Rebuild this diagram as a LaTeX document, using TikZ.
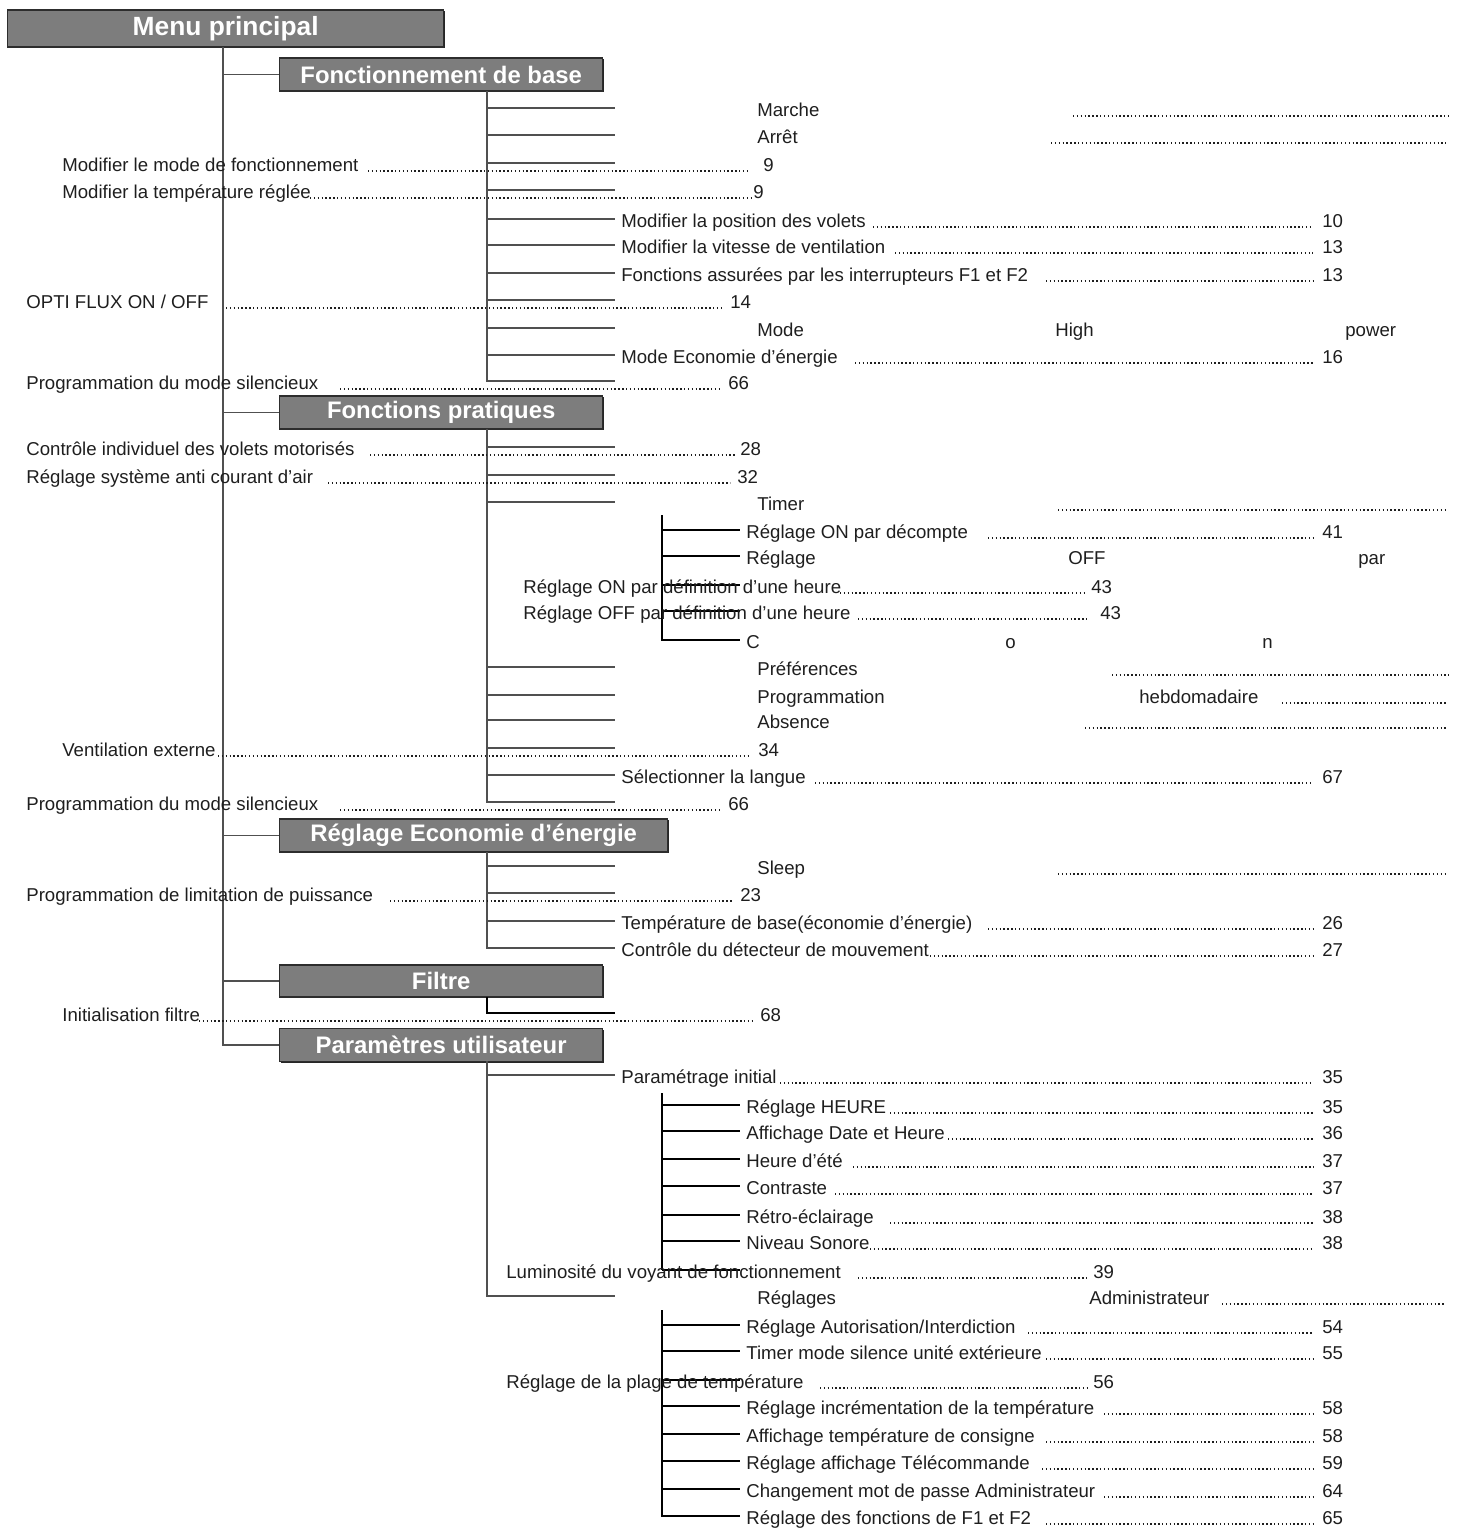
\documentclass[tikz,border=0pt]{standalone}
\usepackage{fontspec}
\setmainfont{Liberation Sans}
\usepackage{tikz}
\usetikzlibrary{shadows}
\usepackage{xcolor}
\definecolor{boxgray}{RGB}{125,125,125}
\definecolor{boxedge}{RGB}{45,45,45}
\definecolor{linegray}{RGB}{80,80,80}
\definecolor{textgray}{RGB}{30,30,30}
\tikzstyle{menubox} = [rectangle, anchor=west, fill=boxgray, draw=boxedge, line width=0.8pt, text=white, font=\bfseries\fontsize{13.6}{16}\selectfont, minimum width=6.46cm, minimum height=0.66cm, inner sep=0pt, drop shadow={shadow xshift=0.7pt, shadow yshift=-0.8pt, fill=black!85, opacity=1}]
\tikzstyle{entry} = [anchor=base west, inner sep=0pt, text=textgray, font=\fontsize{10.6}{13}\selectfont, yshift=-0.17cm]
\tikzstyle{tree} = [line width=0.95pt, color=linegray]
\tikzstyle{subtree} = [line width=1.2pt, color=black]
\tikzstyle{leader} = [line width=0.8pt, dash pattern=on 0.8pt off 1.4pt, color=textgray]

\begin{document}
\begin{tikzpicture}[x=0.02cm, y=-0.02cm]
\useasboundingbox (0,0) rectangle (1459,1534);

% boxes
\node[menubox, minimum width=8.72cm, minimum height=0.74cm, font=\bfseries\fontsize{15}{18}\selectfont] (menu) at (7,28.5) {Menu principal};
\node[menubox] (base) at (279,74.5) {Fonctionnement de base};
\node[menubox] (prat) at (279,412.5) {Fonctions pratiques};
\node[menubox, minimum width=7.76cm] (eco) at (279,835.5) {Réglage Economie d'énergie};
\node[menubox, minimum height=0.64cm] (filtre) at (279,981) {Filtre};
\node[menubox] (param) at (279,1045) {Paramètres utilisateur};

% main tree
\coordinate (root) at (223,47);
\draw[tree] (root) |- (param.west);
\draw[tree] (root |- base.west) -- (base.west);
\draw[tree] (root |- prat.west) -- (prat.west);
\draw[tree] (root |- eco.west) -- (eco.west);
\draw[tree] (root |- filtre.west) -- (filtre.west);

% Fonctionnement de base
\coordinate (s1) at (487,91);
\draw[tree] (s1) |- (615,381);
\foreach \y in {108,135,163,190,219,245,273,300,328,355}
  \draw[tree] (487,\y) -- (615,\y);
\node[entry] (a1) at (757,108) {Marche};
\node[entry] (a2) at (757,135) {Arrêt};
\node[entry] (a3) at (62,163) {Modifier le mode de fonctionnement};
\node[entry] (n3) at (763,163) {9};
\node[entry] (a4) at (62,190) {Modifier la température réglée};
\node[entry] (n4) at (753,190) {9};
\node[entry] (a5) at (621,219) {Modifier la position des volets};
\node[entry] (n5) at (1322,219) {10};
\node[entry] (a6) at (621,245) {Modifier la vitesse de ventilation};
\node[entry] (n6) at (1322,245) {13};
\node[entry] (a7) at (621,273) {Fonctions assurées par les interrupteurs F1 et F2};
\node[entry] (n7) at (1322,273) {13};
\node[entry] (a8) at (26,300) {OPTI FLUX ON / OFF};
\node[entry] (n8) at (730,300) {14};
\node[entry] (a9) at (757,328) {Mode};
\node[entry] (a9b) at (1055,328) {High};
\node[entry] (a9c) at (1345,328) {power};
\node[entry] (a10) at (621,355) {Mode Economie d'énergie};
\node[entry] (n10) at (1322,355) {16};
\node[entry] (a11) at (26,381) {Programmation du mode silencieux};
\node[entry] (n11) at (728,381) {66};
\draw[leader] (1073,116) -- (1449,116);
\draw[leader] (1051,143) -- (1446,143);
\draw[leader] (368,171) -- (748,171);
\draw[leader] (310,198) -- (751,198);
\draw[leader] (873,227) -- (1313,227);
\draw[leader] (895,253) -- (1313,253);
\draw[leader] (1046,281) -- (1313,281);
\draw[leader] (226,308) -- (722,308);
\draw[leader] (855,363) -- (1313,363);
\draw[leader] (340,389) -- (720,389);

% Fonctions pratiques
\coordinate (s2) at (487,429);
\draw[tree] (s2) |- (615,802);
\foreach \y in {447,475,502,667,695,720,748,775}
  \draw[tree] (487,\y) -- (615,\y);
\draw[subtree] (662,515) |- (740,640);
\foreach \y in {530,556,585,611}
  \draw[subtree] (662,\y) -- (740,\y);
\node[entry] (b1) at (26,447) {Contrôle individuel des volets motorisés};
\node[entry] (m1) at (740,447) {28};
\node[entry] (b2) at (26,475) {Réglage système anti courant d'air};
\node[entry] (m2) at (737,475) {32};
\node[entry] (b3) at (757,502) {Timer};
\node[entry] (b4) at (746,530) {Réglage ON par décompte};
\node[entry] (m4) at (1322,530) {41};
\node[entry] (b5) at (746,556) {Réglage};
\node[entry] (b5b) at (1068,556) {OFF};
\node[entry] (b5c) at (1358,556) {par};
\node[entry] (b6) at (523,585) {Réglage ON par définition d'une heure};
\node[entry] (m6) at (1091,585) {43};
\node[entry] (b7) at (523,611) {Réglage OFF par définition d'une heure};
\node[entry] (m7) at (1100,611) {43};
\node[entry] (b8) at (746,640) {C};
\node[entry] (b8b) at (1005,640) {o};
\node[entry] (b8c) at (1262,640) {n};
\node[entry] (b9) at (757,667) {Préférences};
\node[entry] (b10) at (757,695) {Programmation};
\node[entry] (b10b) at (1139,695) {hebdomadaire};
\node[entry] (b11) at (757,720) {Absence};
\node[entry] (b12) at (62,748) {Ventilation externe};
\node[entry] (m12) at (758,748) {34};
\node[entry] (b13) at (621,775) {Sélectionner la langue};
\node[entry] (m13) at (1322,775) {67};
\node[entry] (b14) at (26,802) {Programmation du mode silencieux};
\node[entry] (m14) at (728,802) {66};
\draw[leader] (370,455) -- (735,455);
\draw[leader] (328,483) -- (730,483);
\draw[leader] (1058,510) -- (1446,510);
\draw[leader] (988,538) -- (1313,538);
\draw[leader] (840,593) -- (1087,593);
\draw[leader] (858,619) -- (1087,619);
\draw[leader] (1112,675) -- (1449,675);
\draw[leader] (1282,703) -- (1446,703);
\draw[leader] (1085,728) -- (1446,728);
\draw[leader] (218,756) -- (750,756);
\draw[leader] (815,783) -- (1313,783);
\draw[leader] (340,810) -- (720,810);

% Reglage Economie d'energie
\coordinate (s3) at (487,852);
\draw[tree] (s3) |- (615,948);
\foreach \y in {866,893,921}
  \draw[tree] (487,\y) -- (615,\y);
\node[entry] (c1) at (757,866) {Sleep};
\node[entry] (c2) at (26,893) {Programmation de limitation de puissance};
\node[entry] (k2) at (740,893) {23};
\node[entry] (c3) at (621,921) {Température de base(économie d'énergie)};
\node[entry] (k3) at (1322,921) {26};
\node[entry] (c4) at (621,948) {Contrôle du détecteur de mouvement};
\node[entry] (k4) at (1322,948) {27};
\draw[leader] (1058,874) -- (1446,874);
\draw[leader] (390,901) -- (733,901);
\draw[leader] (988,929) -- (1313,929);
\draw[leader] (930,956) -- (1313,956);

% Filtre
\coordinate (s4) at (487,997);
\draw[subtree] (s4) |- (615,1013);
\node[entry] (d1) at (62,1013) {Initialisation filtre};
\node[entry] (h1) at (760,1013) {68};
\draw[leader] (199,1021) -- (752,1021);

% Parametres utilisateur
\coordinate (s5) at (487,1061);
\draw[tree] (s5) |- (615,1296);
\draw[tree] (487,1075) -- (615,1075);
\draw[subtree] (662,1093) -- (662,1270);
\foreach \y in {1105,1131,1159,1186,1215,1241,1270}
  \draw[subtree] (662,\y) -- (740,\y);
\draw[subtree] (662,1310) |- (740,1516);
\foreach \y in {1325,1351,1380,1406,1434,1461,1489}
  \draw[subtree] (662,\y) -- (740,\y);
\node[entry] (e1) at (621,1075) {Paramétrage initial};
\node[entry] (g1) at (1322,1075) {35};
\node[entry] (e2) at (746,1105) {Réglage HEURE};
\node[entry] (g2) at (1322,1105) {35};
\node[entry] (e3) at (746,1131) {Affichage Date et Heure};
\node[entry] (g3) at (1322,1131) {36};
\node[entry] (e4) at (746,1159) {Heure d'été};
\node[entry] (g4) at (1322,1159) {37};
\node[entry] (e5) at (746,1186) {Contraste};
\node[entry] (g5) at (1322,1186) {37};
\node[entry] (e6) at (746,1215) {Rétro-éclairage};
\node[entry] (g6) at (1322,1215) {38};
\node[entry] (e7) at (746,1241) {Niveau Sonore};
\node[entry] (g7) at (1322,1241) {38};
\node[entry] (e8) at (506,1270) {Luminosité du voyant de fonctionnement};
\node[entry] (g8) at (1093,1270) {39};
\node[entry] (e9) at (757,1296) {Réglages};
\node[entry] (e9b) at (1089,1296) {Administrateur};
\node[entry] (e10) at (746,1325) {Réglage Autorisation/Interdiction};
\node[entry] (g10) at (1322,1325) {54};
\node[entry] (e11) at (746,1351) {Timer mode silence unité extérieure};
\node[entry] (g11) at (1322,1351) {55};
\node[entry] (e12) at (506,1380) {Réglage de la plage de température};
\node[entry] (g12) at (1093,1380) {56};
\node[entry] (e13) at (746,1406) {Réglage incrémentation de la température};
\node[entry] (g13) at (1322,1406) {58};
\node[entry] (e14) at (746,1434) {Affichage température de consigne};
\node[entry] (g14) at (1322,1434) {58};
\node[entry] (e15) at (746,1461) {Réglage affichage Télécommande};
\node[entry] (g15) at (1322,1461) {59};
\node[entry] (e16) at (746,1489) {Changement mot de passe Administrateur};
\node[entry] (g16) at (1322,1489) {64};
\node[entry] (e17) at (746,1516) {Réglage des fonctions de F1 et F2};
\node[entry] (g17) at (1322,1516) {65};
\draw[leader] (780,1083) -- (1313,1083);
\draw[leader] (890,1113) -- (1313,1113);
\draw[leader] (948,1139) -- (1313,1139);
\draw[leader] (853,1167) -- (1313,1167);
\draw[leader] (835,1194) -- (1313,1194);
\draw[leader] (890,1223) -- (1313,1223);
\draw[leader] (870,1249) -- (1313,1249);
\draw[leader] (858,1278) -- (1087,1278);
\draw[leader] (1222,1304) -- (1446,1304);
\draw[leader] (1028,1333) -- (1313,1333);
\draw[leader] (1046,1359) -- (1313,1359);
\draw[leader] (820,1388) -- (1087,1388);
\draw[leader] (1104,1414) -- (1313,1414);
\draw[leader] (1046,1442) -- (1313,1442);
\draw[leader] (1042,1469) -- (1313,1469);
\draw[leader] (1104,1497) -- (1313,1497);
\draw[leader] (1046,1524) -- (1313,1524);
\end{tikzpicture}
\end{document}
